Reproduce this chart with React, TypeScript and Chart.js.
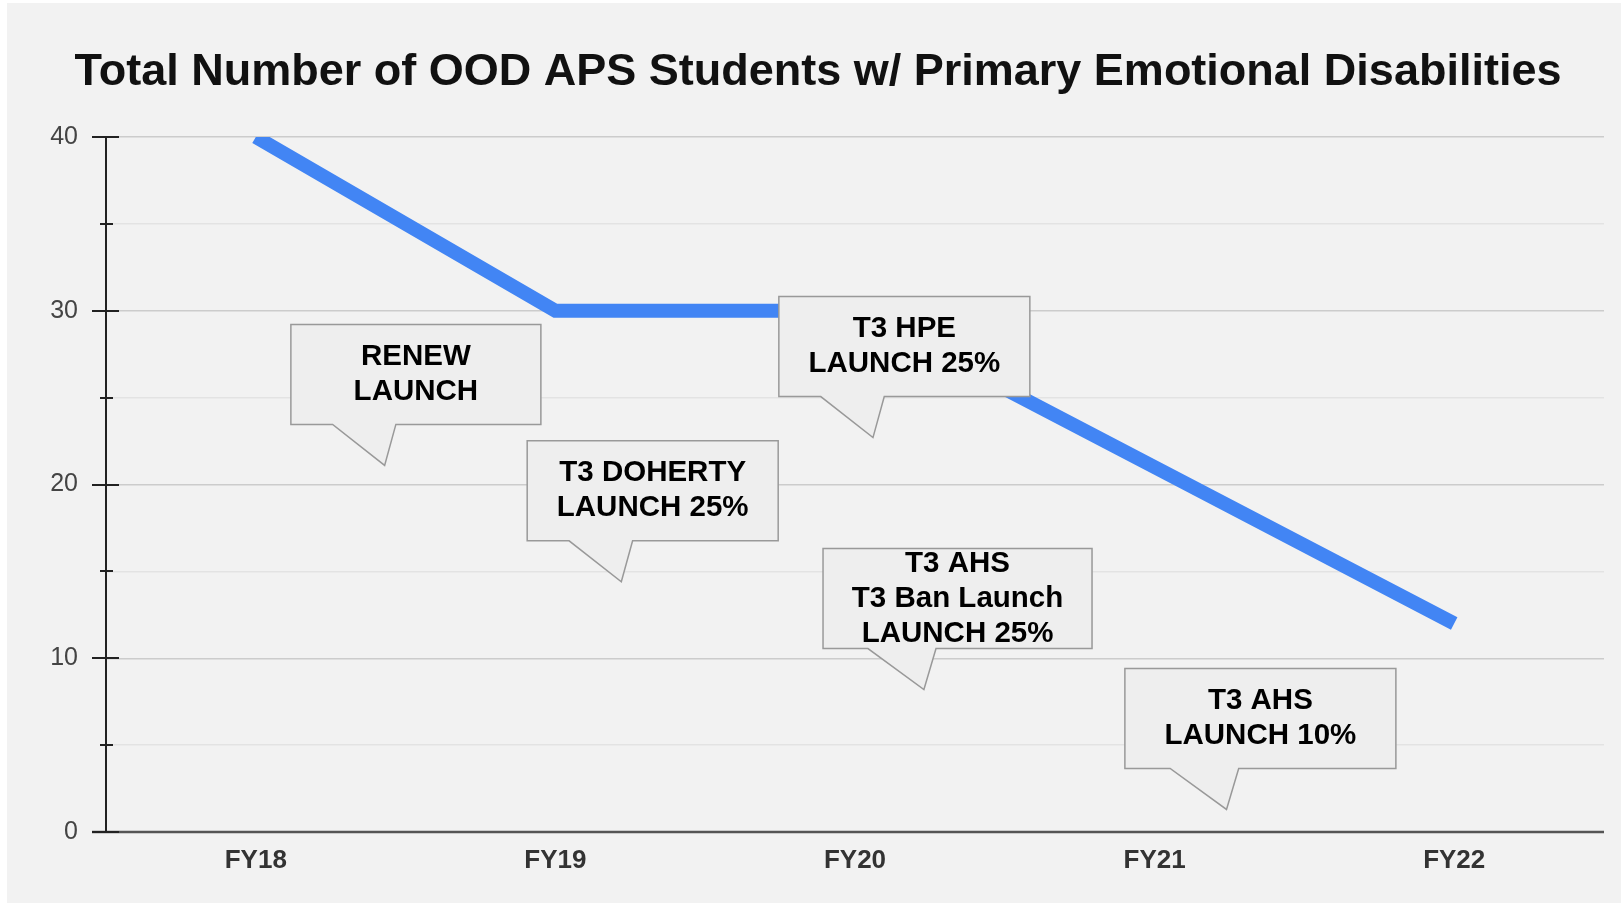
import React, { useEffect, useRef } from 'react';
import { Chart, registerables } from 'chart.js';

Chart.register(...registerables);

const TITLE = 'Total Number of OOD APS Students w/ Primary Emotional Disabilities';
const categories = ['FY18', 'FY19', 'FY20', 'FY21', 'FY22'];
const studentCounts = [40, 30, 30, 21, 12];
const yMin = 0;
const yMax = 40;
const yStep = 5;
const yLabelStep = 10;

// callout annotations: text lines and the data point (category index, value) that each tail points to
const calloutLines = [
  ['RENEW', 'LAUNCH'],
  ['T3 DOHERTY', 'LAUNCH 25%'],
  ['T3 HPE', 'LAUNCH 25%'],
  ['T3 AHS', 'T3 Ban Launch', 'LAUNCH 25%'],
  ['T3 AHS', 'LAUNCH 10%'],
];
const calloutX = [0.43, 1.22, 2.06, 2.23, 3.24];
const calloutY = [21.1, 14.4, 22.7, 8.2, 1.3];
const calloutWidths = [250, 251, 251, 269, 271];

const FONT = '"Liberation Sans", Arial, Helvetica, sans-serif';
const W = 1621;
const H = 905;

const decorPlugin = {
  id: 'decor',
  beforeDraw(chart: any) {
    const ctx = chart.ctx;
    ctx.save();
    ctx.fillStyle = '#ffffff';
    ctx.fillRect(0, 0, chart.width, chart.height);
    ctx.fillStyle = '#f2f2f2';
    ctx.fillRect(7, 3, chart.width - 7, 900);
    ctx.fillStyle = '#111111';
    ctx.font = `bold 45px ${FONT}`;
    ctx.textAlign = 'center';
    ctx.textBaseline = 'middle';
    ctx.fillText(TITLE, 818, 73);
    ctx.restore();
  },
  afterDatasetsDraw(chart: any) {
    const { ctx, chartArea } = chart;
    const x = chart.scales.x;
    const y = chart.scales.y;
    ctx.save();
    // baseline
    const p0 = y.getPixelForValue(yMin);
    ctx.strokeStyle = '#555555';
    ctx.lineWidth = 2.5;
    ctx.beginPath();
    ctx.moveTo(chartArea.left - 14, p0);
    ctx.lineTo(chartArea.right, p0);
    ctx.stroke();
    // y axis line + ticks
    ctx.strokeStyle = '#222222';
    ctx.lineWidth = 2;
    ctx.beginPath();
    ctx.moveTo(chartArea.left, y.getPixelForValue(yMax));
    ctx.lineTo(chartArea.left, p0);
    ctx.stroke();
    for (let v = yMin; v <= yMax; v += yStep) {
      const py = Math.round(y.getPixelForValue(v));
      const major = v % yLabelStep === 0;
      ctx.beginPath();
      ctx.moveTo(chartArea.left - (major ? 14 : 6), py);
      ctx.lineTo(chartArea.left + (major ? 13 : 7), py);
      ctx.stroke();
    }
    // callouts
    for (let i = 0; i < calloutLines.length; i++) {
      const tx = x.getPixelForValue(calloutX[i]);
      const ty = y.getPixelForValue(calloutY[i]);
      const bw = calloutWidths[i];
      const bh = 100;
      const L = tx - 0.375 * bw;
      const B = ty - 41;
      const T = B - bh;
      const R = L + bw;
      ctx.beginPath();
      ctx.moveTo(L, T);
      ctx.lineTo(R, T);
      ctx.lineTo(R, B);
      ctx.lineTo(L + 0.42 * bw, B);
      ctx.lineTo(tx, ty);
      ctx.lineTo(L + 0.167 * bw, B);
      ctx.lineTo(L, B);
      ctx.closePath();
      ctx.fillStyle = '#eeeeee';
      ctx.fill();
      ctx.strokeStyle = '#999999';
      ctx.lineWidth = 1.5;
      ctx.stroke();
      const lines = calloutLines[i];
      const lh = 35;
      const cy = (T + B) / 2;
      ctx.fillStyle = '#000000';
      ctx.font = `bold 29.5px ${FONT}`;
      ctx.textAlign = 'center';
      ctx.textBaseline = 'middle';
      lines.forEach((t, k) => {
        ctx.fillText(t, L + bw / 2, cy + (k - (lines.length - 1) / 2) * lh);
      });
    }
    ctx.restore();
  },
};

export default function App() {
  const ref = useRef<HTMLCanvasElement | null>(null);
  useEffect(() => {
    if (!ref.current) return;
    const chart = new Chart(ref.current, {
      type: 'line',
      data: {
        labels: categories,
        datasets: [
          {
            data: studentCounts,
            borderColor: '#4285F4',
            backgroundColor: '#4285F4',
            borderWidth: 14,
            pointRadius: 0,
            pointHoverRadius: 0,
            tension: 0,
            fill: false,
            clip: 0,
            borderCapStyle: 'butt',
            borderJoinStyle: 'miter',
          } as any,
        ],
      },
      options: {
        responsive: false,
        animation: false,
        devicePixelRatio: 1,
        events: [],
        layout: { padding: { top: 137, left: 0, right: 17, bottom: 33 } },
        plugins: {
          legend: { display: false },
          title: { display: false },
          tooltip: { enabled: false },
        },
        scales: {
          x: {
            type: 'category',
            offset: true,
            grid: { display: false, drawTicks: false },
            border: { display: false },
            ticks: {
              font: { family: FONT, size: 26, weight: 'bold' },
              color: '#333333',
              padding: 13,
              maxRotation: 0,
              autoSkip: false,
            },
            afterFit: (s: any) => {
              s.height = 40;
            },
          },
          y: {
            min: yMin,
            max: yMax,
            grid: {
              drawTicks: false,
              color: (c: any) =>
                c.tick && c.tick.value === 0
                  ? 'rgba(0,0,0,0)'
                  : c.tick && c.tick.value % yLabelStep === 0
                  ? '#cccccc'
                  : '#e3e3e3',
              lineWidth: 1.5,
            },
            border: { display: false },
            ticks: {
              stepSize: yStep,
              callback: (v: any) => (Number(v) % yLabelStep === 0 ? String(v) : ''),
              font: { family: FONT, size: 25 },
              color: '#444444',
              padding: 28,
            },
            afterFit: (s: any) => {
              s.width = 106;
            },
          },
        },
      } as any,
      plugins: [decorPlugin],
    });
    return () => chart.destroy();
  }, []);
  return (
    <div style={{ position: 'fixed', left: 0, top: 0, width: W, height: H, background: '#ffffff' }}>
      <canvas ref={ref} width={W} height={H} style={{ width: W, height: H, display: 'block' }} />
    </div>
  );
}
